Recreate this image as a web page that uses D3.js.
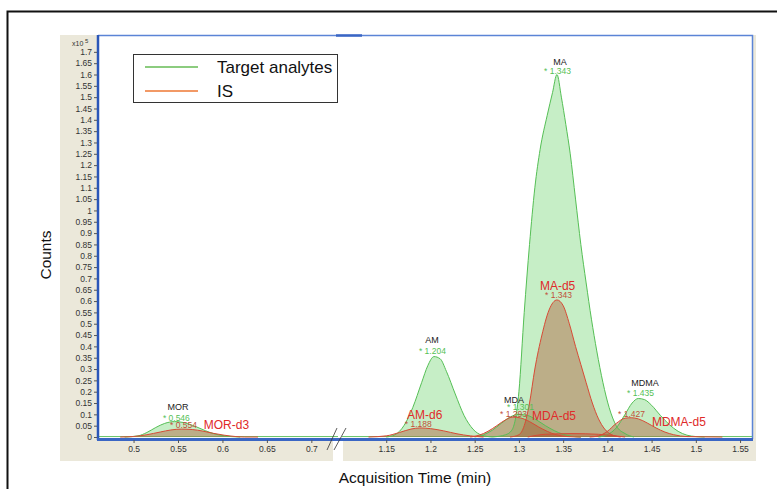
<!DOCTYPE html>
<html lang="en">
<head>
<meta charset="utf-8">
<title>Chromatogram</title>
<script src="https://d3js.org/d3.v7.min.js"></script>
<style>
  body { margin: 0; background: #fff; }
  text { font-family: "Liberation Sans", Arial, sans-serif; }
  .tick text { font-size: 8.5px; fill: #333; }
  .tick line { stroke: #555; }
</style>
</head>
<body>
<div id="chart"></div>
<script>
// values in x10^5 counts, time in min
var morTarget  = [[0.49,0],[0.505,0.005],[0.515,0.02],[0.525,0.042],[0.535,0.06],[0.546,0.068],[0.556,0.064],[0.566,0.052],[0.576,0.036],[0.586,0.02],[0.596,0.009],[0.61,0.002],[0.62,0]];
var morIS      = [[0.485,0],[0.5,0.002],[0.515,0.01],[0.53,0.022],[0.542,0.031],[0.554,0.035],[0.566,0.033],[0.578,0.026],[0.59,0.016],[0.602,0.008],[0.615,0.002],[0.625,0],[0.64,0]];
var amTarget   = [[1.15,0],[1.16,0.01],[1.17,0.05],[1.18,0.13],[1.19,0.24],[1.197,0.315],[1.204,0.355],[1.211,0.345],[1.218,0.29],[1.228,0.19],[1.238,0.095],[1.248,0.035],[1.258,0.008],[1.27,0]];
var amIS       = [[1.13,0],[1.15,0.005],[1.165,0.02],[1.178,0.035],[1.188,0.04],[1.2,0.037],[1.215,0.027],[1.23,0.014],[1.245,0.005],[1.26,0]];
var maTarget   = [[1.27,0],[1.285,0.01],[1.292,0.03],[1.3,0.2],[1.306,0.55],[1.312,0.85],[1.318,1.1],[1.324,1.27],[1.332,1.42],[1.338,1.52],[1.343,1.6],[1.348,1.5],[1.353,1.38],[1.358,1.25],[1.364,1.05],[1.37,0.85],[1.376,0.68],[1.382,0.52],[1.388,0.38],[1.395,0.24],[1.402,0.13],[1.41,0.05],[1.42,0.015],[1.43,0]];
var maIS       = [[1.29,0],[1.3,0.01],[1.306,0.05],[1.312,0.15],[1.318,0.3],[1.326,0.45],[1.334,0.56],[1.343,0.605],[1.35,0.58],[1.357,0.5],[1.364,0.4],[1.37,0.32],[1.376,0.24],[1.383,0.15],[1.39,0.08],[1.397,0.035],[1.405,0.01],[1.415,0]];
var mdaTarget  = [[1.25,0],[1.26,0.01],[1.27,0.03],[1.28,0.06],[1.29,0.088],[1.3,0.1],[1.31,0.095],[1.32,0.075],[1.33,0.05],[1.34,0.028],[1.35,0.012],[1.36,0.003],[1.37,0]];
var mdaIS      = [[1.245,0],[1.255,0.008],[1.265,0.025],[1.275,0.05],[1.285,0.076],[1.293,0.088],[1.302,0.084],[1.312,0.068],[1.322,0.045],[1.332,0.025],[1.342,0.01],[1.355,0.002],[1.37,0]];
var mdmaTarget = [[1.39,0],[1.4,0.01],[1.41,0.04],[1.42,0.1],[1.428,0.15],[1.435,0.17],[1.442,0.165],[1.45,0.14],[1.46,0.095],[1.47,0.055],[1.48,0.025],[1.49,0.008],[1.5,0.002],[1.51,0]];
var mdmaIS     = [[1.38,0],[1.39,0.005],[1.4,0.025],[1.41,0.06],[1.42,0.083],[1.427,0.085],[1.435,0.08],[1.445,0.062],[1.455,0.04],[1.465,0.022],[1.475,0.01],[1.49,0.002],[1.53,0]];
var isHump     = [[1.31,0],[1.33,0.012],[1.36,0.015],[1.39,0.012],[1.42,0]];

var yTicks = d3.range(0, 1.7001, 0.05);
var xTicksLeft = [0.5, 0.55, 0.6, 0.65, 0.7];
var xTicksRight = [1.15, 1.2, 1.25, 1.3, 1.35, 1.4, 1.45, 1.5, 1.55];
var legendLabels = ["Target analytes", "IS"];

// compound names (black), retention times (green / red), IS names (red)
var names = [["MOR",0.550,0.119],["AM",1.2017,0.415],["MA",1.3464,1.642],["MDA",1.2944,0.150],["MDMA",1.4425,0.225]];
var targetRT = [["* 0.546",0.533,0.071],["* 1.204",1.187,0.366],["* 1.343",1.3284,1.603],["* 1.301",1.2865,0.119],["* 1.435",1.4222,0.181]];
var isRT = [["* 0.554",0.541,0.040],["* 1.188",1.171,0.044],["* 1.343",1.3295,0.614],["* 1.293",1.2786,0.088],["* 1.427",1.412,0.088]];
var isNames = [["MOR-d3",0.579,0.035],["AM-d6",1.1735,0.079],["MA-d5",1.3238,0.649],["MDA-d5",1.3148,0.075],["MDMA-d5",1.4504,0.049]];

var targetSeries = [morTarget, amTarget, mdaTarget, maTarget, mdmaTarget];
var isSeries = [morIS, amIS, mdaIS, isHump, maIS, mdmaIS];

var width = 777, height = 489;
var svg = d3.select("#chart").append("svg")
    .attr("width", width)
    .attr("height", height);

var xL = d3.scaleLinear().domain([0.46, 0.73]).range([98, 338]);
var xR = d3.scaleLinear().domain([1.1, 1.5635]).range([342, 752]);
var y = d3.scaleLinear().domain([0, 1.77]).range([437, 36]);
function x(t) { return t < 0.9 ? xL(t) : xR(t); }

// outer frame
svg.append("rect").attr("x", 7.5).attr("y", 11.5).attr("width", 800).attr("height", 500)
    .attr("fill", "#fff").attr("stroke", "#111").attr("stroke-width", 2);

// beige panel + plot area
svg.append("rect").attr("x", 60).attr("y", 35).attr("width", 696).attr("height", 426).attr("fill", "#ebe8da");
svg.append("rect").attr("x", 98).attr("y", 35).attr("width", 654).attr("height", 404).attr("fill", "#fff");
svg.append("rect").attr("x", 333).attr("y", 441).attr("width", 10).attr("height", 21).attr("fill", "#fff");

var clipL = svg.append("clipPath").attr("id", "clipL");
clipL.append("rect").attr("x", 98).attr("y", 35).attr("width", 240).attr("height", 404);
var clipR = svg.append("clipPath").attr("id", "clipR");
clipR.append("rect").attr("x", 342).attr("y", 35).attr("width", 410).attr("height", 404);

var area = d3.area().x(function(d) { return x(d[0]); }).y0(y(0)).y1(function(d) { return y(d[1]); }).curve(d3.curveMonotoneX);
var line = d3.line().x(function(d) { return x(d[0]); }).y(function(d) { return y(d[1]); }).curve(d3.curveMonotoneX);

function clipFor(s) { return s[0][0] < 0.9 ? "url(#clipL)" : "url(#clipR)"; }

var plot = svg.append("g");

// green baseline
plot.append("line").attr("x1", xL(0.46)).attr("x2", xL(0.73)).attr("y1", y(0.002)).attr("y2", y(0.002)).attr("stroke", "#66c466").attr("stroke-width", 1);
plot.append("line").attr("x1", xR(1.1)).attr("x2", xR(1.5635)).attr("y1", y(0.002)).attr("y2", y(0.002)).attr("stroke", "#66c466").attr("stroke-width", 1);

targetSeries.forEach(function(s) {
  plot.append("path").datum(s).attr("d", area).attr("clip-path", clipFor(s))
    .attr("fill", "rgba(120,215,120,0.42)");
});
isSeries.forEach(function(s) {
  plot.append("path").datum(s).attr("d", area).attr("clip-path", clipFor(s))
    .attr("fill", "rgba(175,85,50,0.42)");
});
targetSeries.forEach(function(s) {
  plot.append("path").datum(s).attr("d", line).attr("clip-path", clipFor(s))
    .attr("fill", "none").attr("stroke", "#55bf55").attr("stroke-width", 1);
});
isSeries.forEach(function(s) {
  plot.append("path").datum(s).attr("d", line).attr("clip-path", clipFor(s))
    .attr("fill", "none").attr("stroke", "#d84a35").attr("stroke-width", 1);
});

// plot frame
svg.append("path").attr("d", "M98,35.5H752.5V439").attr("fill", "none").attr("stroke", "#5b84d6").attr("stroke-width", 1.5);
svg.append("line").attr("x1", 336).attr("x2", 362).attr("y1", 35.5).attr("y2", 35.5).attr("stroke", "#3a66c4").attr("stroke-width", 2.5);
svg.append("line").attr("x1", 98).attr("x2", 98).attr("y1", 35).attr("y2", 440).attr("stroke", "#2a56b8").attr("stroke-width", 2.5);
svg.append("line").attr("x1", 97).attr("x2", 753).attr("y1", 439.5).attr("y2", 439.5).attr("stroke", "#3a66c4").attr("stroke-width", 3);

// axis break marks
svg.append("line").attr("x1", 327).attr("y1", 450).attr("x2", 337).attr("y2", 428).attr("stroke", "#333").attr("stroke-width", 0.8);
svg.append("line").attr("x1", 334).attr("y1", 450).attr("x2", 346).attr("y2", 428).attr("stroke", "#333").attr("stroke-width", 0.8);

// axes
var fmt = function(d) { return String(+d.toFixed(2)); };
var yAxis = svg.append("g").attr("transform", "translate(97,0)")
    .call(d3.axisLeft(y).tickValues(yTicks).tickSize(3).tickPadding(2).tickFormat(fmt));
yAxis.select(".domain").remove();

var xAxisL = svg.append("g").attr("transform", "translate(0,440)")
    .call(d3.axisBottom(xL).tickValues(xTicksLeft).tickSize(3).tickPadding(3).tickFormat(fmt));
xAxisL.select(".domain").remove();
var xAxisR = svg.append("g").attr("transform", "translate(0,440)")
    .call(d3.axisBottom(xR).tickValues(xTicksRight).tickSize(3).tickPadding(3).tickFormat(fmt));
xAxisR.select(".domain").remove();

// exponent
svg.append("text").attr("x", 72).attr("y", 46).attr("font-size", 7).attr("fill", "#333").text("x10");
svg.append("text").attr("x", 85).attr("y", 43).attr("font-size", 6).attr("fill", "#333").text("5");

// axis titles
svg.append("text").attr("transform", "translate(51,255) rotate(-90)").attr("text-anchor", "middle")
    .attr("font-size", 15.5).attr("fill", "#111").text("Counts");
svg.append("text").attr("x", 415).attr("y", 483).attr("text-anchor", "middle")
    .attr("font-size", 15.5).attr("fill", "#111").text("Acquisition Time (min)");

// peak annotations
var ann = svg.append("g");
ann.selectAll(".nm").data(names).enter().append("text")
    .attr("x", function(d) { return x(d[1]); }).attr("y", function(d) { return y(d[2]); })
    .attr("text-anchor", "middle").attr("font-size", 9).attr("fill", "#222").text(function(d) { return d[0]; });
ann.selectAll(".trt").data(targetRT).enter().append("text")
    .attr("x", function(d) { return x(d[1]); }).attr("y", function(d) { return y(d[2]); })
    .attr("font-size", 8.5).attr("fill", "#55bf55").text(function(d) { return d[0]; });
ann.selectAll(".irt").data(isRT).enter().append("text")
    .attr("x", function(d) { return x(d[1]); }).attr("y", function(d) { return y(d[2]); })
    .attr("font-size", 8.5).attr("fill", "#c0503a").text(function(d) { return d[0]; });
ann.selectAll(".inm").data(isNames).enter().append("text")
    .attr("x", function(d) { return x(d[1]); }).attr("y", function(d) { return y(d[2]); })
    .attr("font-size", 12).attr("fill", "#e02a2a").text(function(d) { return d[0]; });

// legend
var lg = svg.append("g");
lg.append("rect").attr("x", 133.5).attr("y", 54.5).attr("width", 204).attr("height", 48)
    .attr("fill", "#fff").attr("stroke", "#333").attr("stroke-width", 1);
var legendColors = ["#66bb55", "#ee7733"];
legendLabels.forEach(function(l, i) {
  lg.append("line").attr("x1", 145).attr("x2", 198).attr("y1", 67 + i * 24).attr("y2", 67 + i * 24)
    .attr("stroke", legendColors[i]).attr("stroke-width", 1.5);
  lg.append("text").attr("x", 217).attr("y", 73 + i * 24).attr("font-size", 17).attr("fill", "#111").text(l);
});
</script>
</body>
</html>
